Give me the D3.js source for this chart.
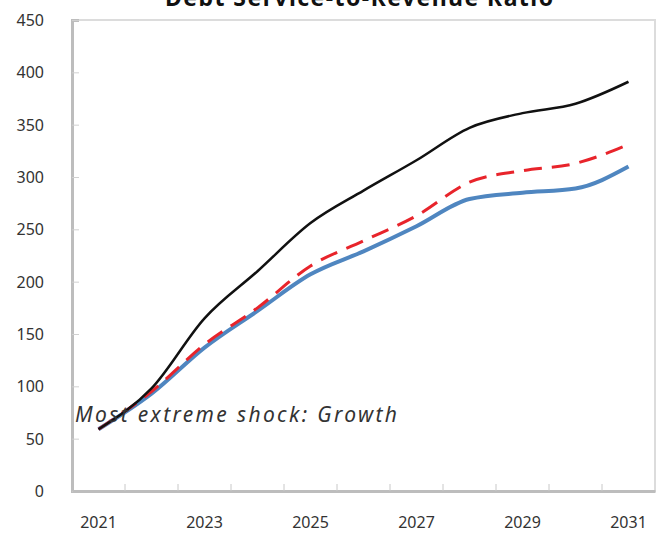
<!DOCTYPE html>
<html>
<head>
<meta charset="utf-8">
<script src="https://cdn.jsdelivr.net/npm/d3@7"></script>
<style>
  body { margin: 0; background: #fff; }
  svg { display: block; }
</style>
</head>
<body>
<script>
const years = [2021, 2022, 2023, 2024, 2025, 2026, 2027, 2028, 2029, 2030, 2031]
const shockValues = [59, 98, 165, 210, 256, 287, 316, 347, 361, 370, 391]
const historicalValues = [59, 95, 140, 175, 215, 239, 263, 295, 306, 313, 331]
const baselineValues = [59, 93, 137, 172, 207, 229, 253, 279, 285, 289, 310]
const yTicks = [0, 50, 100, 150, 200, 250, 300, 350, 400, 450]
const xLabels = [2021, 2023, 2025, 2027, 2029, 2031]

const box = { width: 667, height: 533, left: 72, right: 655, top: 20, bottom: 491 }

const svg = d3.select('body').append('svg')
  .attr('width', box.width).attr('height', box.height)

const xScale = d3.scaleBand().domain(years).range([box.left, box.right])
const yScale = d3.scaleLinear().domain([0, 450]).range([box.bottom, box.top])
const xPos = d => xScale(d) + xScale.bandwidth() / 2

// frame
svg.append('rect')
  .attr('x', box.left).attr('y', box.top)
  .attr('width', box.right - box.left).attr('height', box.bottom - box.top)
  .attr('fill', 'none').attr('stroke', '#dcdcdc').attr('stroke-width', 2)

// y axis
const yAxis = svg.append('g').attr('transform', `translate(${box.left},0)`)
  .call(d3.axisRight(yScale).tickValues(yTicks).tickSize(7).tickFormat(''))
yAxis.select('.domain').attr('stroke', '#bdbdbd').attr('stroke-width', 3)
yAxis.selectAll('.tick line').attr('stroke', '#d0d0d0')
svg.append('g').selectAll('text').data(yTicks).join('text')
  .attr('x', 44).attr('y', d => yScale(d) + 6)
  .attr('text-anchor', 'end')
  .attr('font-family', 'Noto Sans').attr('font-size', 16).attr('fill', '#333')
  .text(d => d)

// x axis
const xAxis = svg.append('g').attr('transform', `translate(0,${box.bottom})`)
  .call(d3.axisTop(xScale).tickSize(0).tickFormat(''))
xAxis.select('.domain').attr('stroke', '#bdbdbd').attr('stroke-width', 3)
svg.append('g').selectAll('line').data(years.slice(1)).join('line')
  .attr('x1', d => xScale(d)).attr('x2', d => xScale(d))
  .attr('y1', box.bottom).attr('y2', box.bottom - 7)
  .attr('stroke', '#c8c8c8')
svg.append('g').selectAll('text').data(xLabels).join('text')
  .attr('x', d => xPos(d)).attr('y', 528)
  .attr('text-anchor', 'middle')
  .attr('font-family', 'Noto Sans').attr('font-size', 16).attr('fill', '#333')
  .text(d => d)

const line = d3.line()
  .x((d, i) => xPos(years[i]))
  .y(d => yScale(d))
  .curve(d3.curveMonotoneX)

svg.append('path').attr('d', line(baselineValues))
  .attr('fill', 'none').attr('stroke', '#4f86c0').attr('stroke-width', 4)
svg.append('path').attr('d', line(historicalValues))
  .attr('fill', 'none').attr('stroke', '#e8242b').attr('stroke-width', 3)
  .attr('stroke-dasharray', '18,10')
svg.append('path').attr('d', line(shockValues))
  .attr('fill', 'none').attr('stroke', '#111').attr('stroke-width', 2.5)

svg.append('text')
  .attr('x', 75).attr('y', 422)
  .attr('font-family', 'Noto Sans').attr('font-style', 'italic')
  .attr('font-size', 21).attr('fill', '#333')
  .attr('textLength', 322).attr('lengthAdjust', 'spacing')
  .text('Most extreme shock: Growth')

svg.append('text')
  .attr('x', 165).attr('y', 6)
  .attr('font-family', 'Noto Sans').attr('font-weight', 'bold')
  .attr('font-size', 23).attr('fill', '#111')
  .attr('textLength', 388).attr('lengthAdjust', 'spacing')
  .text('Debt Service-to-Revenue  Ratio')
</script>
</body>
</html>
